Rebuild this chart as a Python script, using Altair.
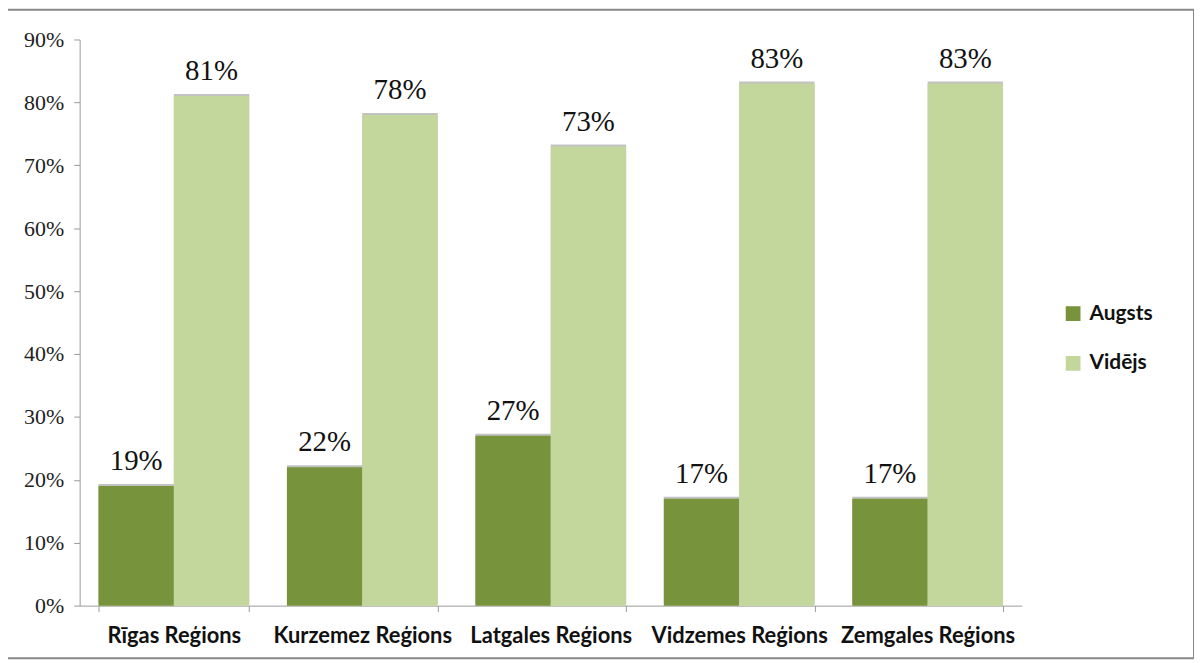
import altair as alt
import pandas as pd

regions = ["Rīgas Reģions", "Kurzemez Reģions", "Latgales Reģions", "Vidzemes Reģions", "Zemgales Reģions"]
series = ["Augsts", "Vidējs"]
augsts = [0.19, 0.22, 0.27, 0.17, 0.17]
videjs = [0.81, 0.78, 0.73, 0.83, 0.83]
colors = ["#77933C", "#C3D69B"]

rows = []
for r, a, v in zip(regions, augsts, videjs):
    rows.append({"region": r, "series": series[0], "value": a})
    rows.append({"region": r, "series": series[1], "value": v})
df = pd.DataFrame(rows)

W, H = 947, 569

x = alt.X("region:N", sort=regions, title=None,
          scale=alt.Scale(paddingInner=0.2, paddingOuter=0.1),
          axis=alt.Axis(labelAngle=0, labelFont="Lato", labelFontWeight="bold",
                        labelFontSize=22, labelColor="#111", labelPadding=14,
                        tickSize=6, tickColor="#999", domainColor="#999",
                        tickBand="extent", grid=False))
y = alt.Y("value:Q", title=None,
          scale=alt.Scale(domain=[0, 0.9]),
          axis=alt.Axis(format=".0%", values=[i / 10 for i in range(10)],
                        labelFont="Liberation Serif", labelFontSize=22,
                        labelColor="#222", labelPadding=10, tickSize=6,
                        tickColor="#999", domainColor="#999", grid=False))
xo = alt.XOffset("series:N", sort=series, scale=alt.Scale(paddingInner=0, paddingOuter=0))
color = alt.Color("series:N", sort=series,
                  scale=alt.Scale(domain=series, range=colors),
                  legend=alt.Legend(title=None, orient="none", legendX=988, legendY=265,
                                    symbolType="square", symbolSize=220,
                                    symbolStrokeWidth=0, rowPadding=28,
                                    labelFont="Lato", labelFontWeight="bold",
                                    labelFontSize=21, labelColor="#111", labelOffset=6))

base = alt.Chart(df)

shadow = base.mark_bar(color="#777", opacity=0.45, xOffset=4, yOffset=-2).encode(
    x=x, xOffset=xo, y=y)
bars = base.mark_bar().encode(x=x, xOffset=xo, y=y, color=color)
labels = base.mark_text(font="Liberation Serif", fontSize=29, dy=-16,
                        baseline="alphabetic", color="#111").encode(
    x=x, xOffset=xo, y=y, text=alt.Text("value:Q", format=".0%"))

border = alt.Chart(pd.DataFrame({"k": [0]})).mark_rect(
    fill=None, stroke="#888", strokeWidth=2, clip=False).encode(
    x=alt.value(-73), x2=alt.value(1120), y=alt.value(-30), y2=alt.value(622))

chart = alt.layer(border, shadow, bars, labels).properties(
    width=W, height=H,
    autosize=alt.AutoSizeParams(type="none"),
    padding={"left": 72, "top": 30, "right": 173, "bottom": 53},
    background="white",
).configure_view(stroke=None)

chart.save("out.html", embed_options={"renderer": "svg", "actions": False})
